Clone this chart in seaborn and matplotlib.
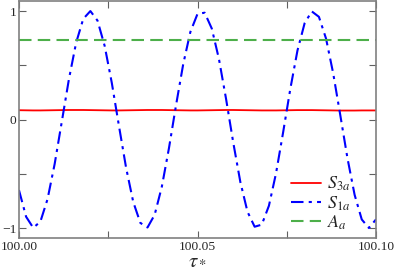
#!/usr/bin/env python3
"""Time traces of S_3a, S_1a and A_a around tau_* = 100."""

import numpy as np
import pandas as pd
import seaborn as sns
import matplotlib.pyplot as plt
from matplotlib.ticker import MultipleLocator

# sample times (tau_*), step 0.002
TAU = [100.000 + 0.002 * k for k in range(51)]

S1A = [-0.650, -0.896, -0.998, -0.941, -0.734, -0.409, -0.019, 0.374, 0.707, 0.928,
       1.000, 0.912, 0.679, 0.338, -0.058, -0.444, -0.759, -0.953, -0.995, -0.878,
       -0.621, -0.265, 0.134, 0.511, 0.807, 0.974, 0.985, 0.839, 0.559, 0.190,
       -0.210, -0.576, -0.850, -0.988, -0.969, -0.795, -0.494, -0.114, 0.284, 0.637,
       0.888, 0.997, 0.947, 0.746, 0.426, 0.038, -0.357, -0.694, -0.921, -1.000,
       -0.920]

S3A = [0.086, 0.085, 0.084, 0.084, 0.085, 0.086, 0.087, 0.088, 0.088, 0.088,
       0.087, 0.086, 0.085, 0.084, 0.084, 0.085, 0.086, 0.087, 0.088, 0.088,
       0.088, 0.087, 0.086, 0.085, 0.084, 0.084, 0.085, 0.086, 0.087, 0.088,
       0.088, 0.087, 0.086, 0.085, 0.084, 0.084, 0.084, 0.085, 0.086, 0.087,
       0.087, 0.087, 0.086, 0.085, 0.084, 0.083, 0.083, 0.083, 0.084, 0.084,
       0.084]

AA = [0.733] * len(TAU)

XTICKS = [100.00, 100.05, 100.10]
XTICK_LABELS = ["100.00", "100.05", "100.10"]
YTICKS = [-1, 0, 1]
YTICK_LABELS = ["\u22121", "0", "1"]


def main():
    sns.set_theme(style="ticks")
    plt.rcParams["font.family"] = ["Liberation Serif", "DejaVu Serif"]
    plt.rcParams["mathtext.fontset"] = "stix"

    df = pd.DataFrame({"tau": TAU, "S1a": S1A, "S3a": S3A, "Aa": AA})

    fig = plt.figure(figsize=(3.95, 2.72), dpi=100)
    ax = fig.add_axes([0.048, 0.125, 0.904, 0.871])

    sns.lineplot(data=df, x="tau", y="S3a", ax=ax, color="#ff0000", lw=1.3,
                 label=r"$S_{3a}$")
    sns.lineplot(data=df, x="tau", y="S1a", ax=ax, color="#0000ff", lw=1.5,
                 label=r"$S_{1a}$", linestyle=(0, (6, 2.5, 1.5, 2.5)))
    sns.lineplot(data=df, x="tau", y="Aa", ax=ax, color="#4daf4a", lw=1.5,
                 label=r"$A_a$", linestyle=(0, (6, 3)))

    ax.set_xlim(100.0, 100.1)
    ax.set_ylim(-1.092, 1.092)
    ax.set_xticks(XTICKS)
    ax.set_xticklabels(XTICK_LABELS)
    ax.set_yticks(YTICKS)
    ax.set_yticklabels(YTICK_LABELS)
    ax.xaxis.set_minor_locator(MultipleLocator(0.025))
    ax.yaxis.set_minor_locator(MultipleLocator(0.5))

    for sp in ax.spines.values():
        sp.set_color("#808080")
        sp.set_linewidth(1.2)
    ax.tick_params(which="both", direction="in", top=True, right=True,
                   color="#606060", width=0.8, labelsize=9.7, pad=2)
    ax.tick_params(which="major", length=5)
    ax.tick_params(which="minor", length=5)

    ax.set_xlabel(r"$\tau_*$", fontsize=15, labelpad=-1)
    ax.set_ylabel("")

    ax.legend(loc="lower right", bbox_to_anchor=(0.937, 0.01), frameon=False,
              fontsize=13, handlelength=1.7, handletextpad=0.3,
              labelspacing=0.05, borderaxespad=0, borderpad=0.2)

    fig.savefig("out.png", dpi=100)


if __name__ == "__main__":
    main()
